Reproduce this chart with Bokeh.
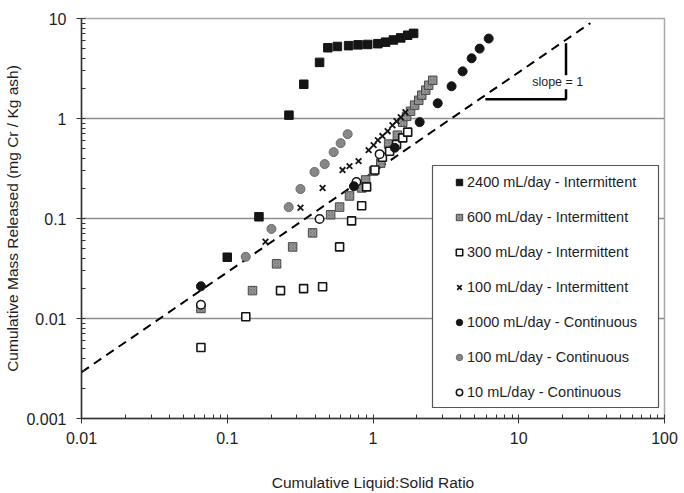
from bokeh.plotting import figure
from bokeh.models import FixedTicker, Legend, LegendItem, BoxAnnotation, Label, Range1d
from bokeh.embed import file_html
from bokeh.resources import INLINE

# Cumulative liquid:solid ratio (x) and cumulative Cr released, mg Cr / kg ash (y)
int2400_x = [0.10, 0.165, 0.265, 0.335, 0.43, 0.49, 0.57, 0.68, 0.79, 0.92, 1.08, 1.22, 1.38, 1.55, 1.73, 1.90]
int2400_y = [0.041, 0.104, 1.08, 2.2, 3.64, 5.1, 5.25, 5.35, 5.45, 5.5, 5.6, 5.8, 6.1, 6.4, 6.8, 7.1]

int600_x = [0.066, 0.149, 0.218, 0.281, 0.385, 0.512, 0.59, 0.69, 0.836, 0.89, 1.01, 1.13, 1.28, 1.47,
            1.6, 1.70, 1.81, 1.93, 2.06, 2.16, 2.30, 2.41, 2.57]
int600_y = [0.0126, 0.019, 0.0352, 0.052, 0.0718, 0.109, 0.13, 0.168, 0.202, 0.243, 0.298, 0.358, 0.555, 0.681,
            0.918, 1.05, 1.18, 1.36, 1.52, 1.71, 1.92, 2.15, 2.41]

int300_x = [0.066, 0.134, 0.232, 0.334, 0.451, 0.59, 0.713, 0.836, 0.904, 1.03, 1.16, 1.30, 1.45, 1.60, 1.73]
int300_y = [0.00513, 0.0104, 0.019, 0.0199, 0.0208, 0.052, 0.0946, 0.134, 0.207, 0.305, 0.41, 0.47, 0.55, 0.64, 0.73]

int100_x = [0.183, 0.318, 0.451, 0.618, 0.69, 0.796, 0.933, 1.01, 1.08, 1.16, 1.26, 1.36, 1.45, 1.55, 1.67]
int100_y = [0.0585, 0.128, 0.202, 0.305, 0.334, 0.375, 0.483, 0.542, 0.608, 0.667, 0.747, 0.857, 0.94, 1.03, 1.156]

cont1000_x = [0.066, 0.74, 1.41, 2.09, 2.78, 3.46, 4.12, 4.75, 5.39, 6.22]
cont1000_y = [0.021, 0.21, 0.51, 0.92, 1.42, 2.1, 2.96, 4.0, 5.0, 6.3]

cont100_x = [0.134, 0.201, 0.264, 0.318, 0.397, 0.466, 0.537, 0.60, 0.67]
cont100_y = [0.0414, 0.0787, 0.13, 0.197, 0.292, 0.35, 0.461, 0.567, 0.697]

cont10_x = [0.066, 0.43, 0.77, 1.11]
cont10_y = [0.0137, 0.099, 0.232, 0.44]

# slope = 1 reference line and its bracket
ref_x = [0.01, 31.0]
ref_y = [0.0029, 9.0]
bracket_x = [5.9, 21.1, 21.1]
bracket_y = [1.56, 1.56, 5.64]
slope_text = "slope = 1"
slope_pos = (18.5, 2.3)

x_ticks = [0.01, 0.1, 1, 10, 100]
x_tick_labels = ["0.01", "0.1", "1", "10", "100"]
y_ticks = [0.001, 0.01, 0.1, 1, 10]
y_tick_labels = ["0.001", "0.01", "0.1", "1", "10"]

series_labels = [
    "2400 mL/day - Intermittent",
    "600 mL/day - Intermittent",
    "300 mL/day - Intermittent",
    "100 mL/day - Intermittent",
    "1000 mL/day - Continuous",
    "100 mL/day - Continuous",
    "10 mL/day - Continuous",
]

FONT = "Liberation Sans"
INK = "#1e1e1e"

p = figure(width=684, height=493, x_axis_type="log", y_axis_type="log",
           x_range=Range1d(0.01, 100), y_range=Range1d(0.001, 10),
           output_backend="svg", toolbar_location=None,
           min_border_left=81, min_border_right=20, min_border_top=18, min_border_bottom=74)

def minor(ticks):
    return [m * t for t in ticks[:-1] for m in range(2, 10)]

p.xaxis.ticker = FixedTicker(ticks=x_ticks, minor_ticks=minor(x_ticks))
p.yaxis.ticker = FixedTicker(ticks=y_ticks, minor_ticks=minor(y_ticks))
p.xaxis.major_label_overrides = dict(zip(x_ticks, x_tick_labels))
p.yaxis.major_label_overrides = dict(zip(y_ticks, y_tick_labels))

p.xgrid.visible = False
p.ygrid.ticker = FixedTicker(ticks=y_ticks)
p.ygrid.grid_line_color = "#8e8e8e"
p.ygrid.grid_line_width = 1.3
p.outline_line_color = "#a8a8a8"
p.outline_line_width = 1.5

for ax in (p.xaxis[0], p.yaxis[0]):
    ax.axis_line_color = "#333333"
    ax.axis_line_width = 1.5
    ax.major_tick_line_color = "#333333"
    ax.minor_tick_line_color = "#333333"
    ax.major_tick_in = 4
    ax.major_tick_out = 5
    ax.minor_tick_in = 4
    ax.minor_tick_out = 0
    ax.major_label_text_font = FONT
    ax.major_label_text_font_size = "16px"
    ax.major_label_text_color = INK
    ax.axis_label_text_font = FONT
    ax.axis_label_text_font_size = "15.5px"
    ax.axis_label_text_font_style = "normal"
    ax.axis_label_text_color = INK

p.xaxis.axis_label = "Cumulative Liquid:Solid Ratio"
p.yaxis.axis_label = "Cumulative Mass Released (mg Cr / Kg ash)"
p.xaxis.major_label_standoff = 8
p.xaxis.axis_label_standoff = 27
p.yaxis.major_label_standoff = 10
p.yaxis.axis_label_standoff = 2

# reference line of slope 1 and bracket
p.line(ref_x, ref_y, line_color="black", line_width=2, line_dash="9 6")
p.line(bracket_x, bracket_y, line_color="black", line_width=2.5)

r2400 = p.scatter(int2400_x, int2400_y, marker="square", size=8.5,
                  fill_color="#151515", line_color="#151515")
r600 = p.scatter(int600_x, int600_y, marker="square", size=8.5,
                 fill_color="#9a9a9a", line_color="#4a4a4a", line_width=1,
                 hatch_pattern="x", hatch_scale=3, hatch_color="#5a5a5a", hatch_alpha=0.6, hatch_weight=0.7)
r100i = p.scatter(int100_x, int100_y, marker="x", size=8,
                  line_color="#151515", line_width=1.8)
r300 = p.scatter(int300_x, int300_y, marker="square", size=8,
                 fill_color="white", line_color="#151515", line_width=1.6)
r100c = p.scatter(cont100_x, cont100_y, marker="circle", size=9,
                  fill_color="#8f8f8f", line_color="#6a6a6a", line_width=1,
                  hatch_pattern="x", hatch_scale=3, hatch_color="#606060", hatch_alpha=0.5, hatch_weight=0.7)
r10 = p.scatter(cont10_x, cont10_y, marker="circle", size=8.5,
                fill_color="white", line_color="#151515", line_width=1.5)
r1000 = p.scatter(cont1000_x, cont1000_y, marker="circle", size=9,
                  fill_color="#151515", line_color="#151515")

p.add_layout(Label(x=slope_pos[0], y=slope_pos[1], text=slope_text, text_align="center",
                   text_baseline="middle", text_font=FONT, text_font_size="12.5px",
                   text_color=INK, background_fill_color="white", background_fill_alpha=1.0))

# legend frame
p.add_layout(BoxAnnotation(left=351, right=577, bottom=11, top=253,
                           left_units="screen", right_units="screen",
                           bottom_units="screen", top_units="screen",
                           fill_color="white", fill_alpha=1.0,
                           line_color="#555555", line_width=1.2, line_alpha=1.0))

renderers = [r2400, r600, r300, r100i, r1000, r100c, r10]
legend = Legend(items=[LegendItem(label=lab, renderers=[r]) for lab, r in zip(series_labels, renderers)],
                location=(370, 16), padding=0, margin=0, spacing=15,
                label_height=20, glyph_height=20, glyph_width=16, label_standoff=0,
                border_line_alpha=0, background_fill_alpha=0,
                label_text_font=FONT, label_text_font_size="14.5px", label_text_color=INK)
p.add_layout(legend)

open("out.html", "w").write(file_html(p, INLINE))
